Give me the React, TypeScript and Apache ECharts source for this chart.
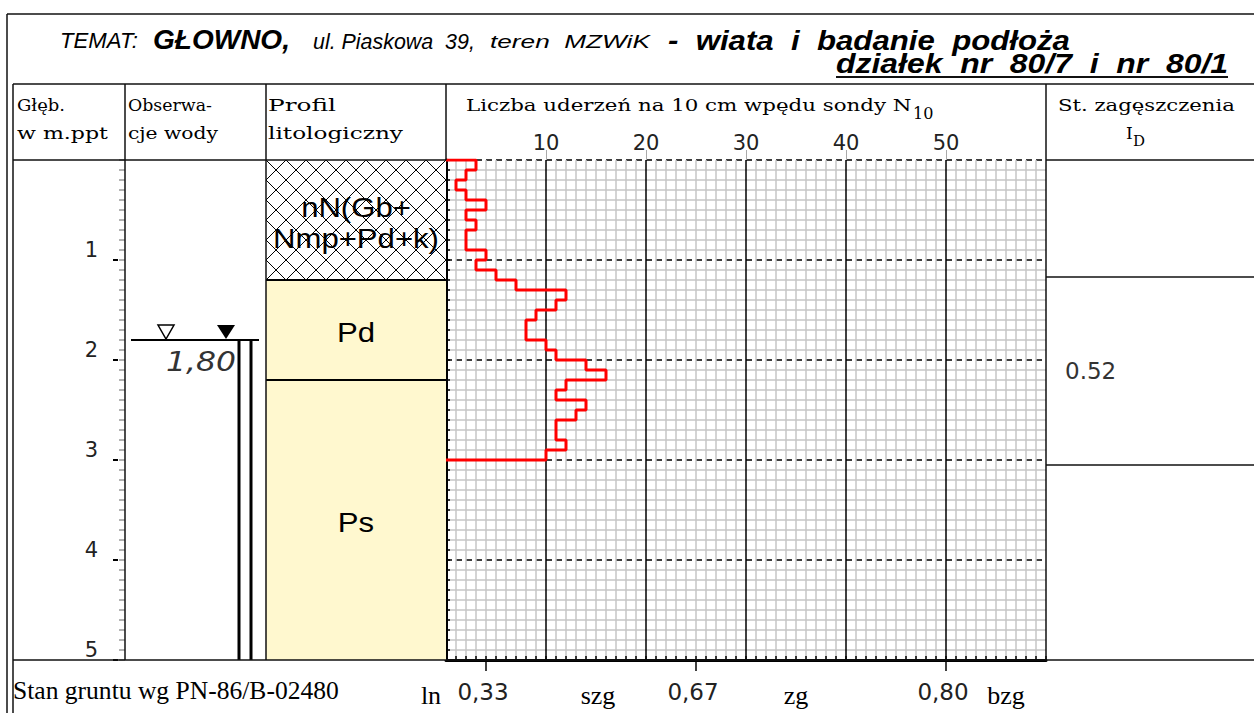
import React, { useEffect, useRef } from 'react';
import * as echarts from 'echarts';

// ---------- data ----------
const DEPTH_STEP = 0.1;
const N10_VALUES = [3, 2, 1, 2, 4, 2, 3, 2, 2, 4, 3, 5, 7, 12, 11, 9, 8, 8, 10, 11, 14, 16, 12, 11, 14, 13, 11, 11, 12, 10];
const N10_TICKS = [10, 20, 30, 40, 50];
const N_MAX = 60;
const DEPTH_TICKS = [1, 2, 3, 4, 5];
const DEPTH_MAX = 5;
const LAYER_TOPS = [0, 1.2, 2.2];
const LAYER_BOTTOMS = [1.2, 2.2, 5];
const LAYER_NAMES = ['nN(Gb+\nNmp+Pd+k)', 'Pd', 'Ps'];
const LAYER_HATCHED = [true, false, false];
const ID_TOPS = [0, 1.17, 3.05];
const ID_BOTTOMS = [1.17, 3.05, 5];
const ID_LABELS = ['', '0.52', ''];
const WATER_DEPTH = 1.8;
const WATER_LABEL = '1,80';
const STATE_TICK_N = [4, 25, 50];
const STATE_TICK_LABELS = ['0,33', '0,67', '0,80'];
const STATE_NAME_N = [-1.5, 15.2, 35, 56];
const STATE_NAMES = ['ln', 'szg', 'zg', 'bzg'];

// ---------- layout ----------
const W = 1254;
const H = 713;
const PLOT_L = 446;
const PLOT_R = 1046;
const PLOT_T = 160;
const PLOT_B = 660;
const COL_DEPTH = 125;
const COL_PROFILE = 266;
const INNER_L = 13;
const HEAD_T = 84;

const SERIF = '"DejaVu Serif"';
const SANS = '"Liberation Sans"';
const NUM = '"DejaVu Sans"';
const TIMES = '"Liberation Serif"';

const stepPoints: number[][] = [[0, 0]];
N10_VALUES.forEach((v, i) => {
  const top = Math.round(i * DEPTH_STEP * 10) / 10;
  const bot = Math.round((i + 1) * DEPTH_STEP * 10) / 10;
  stepPoints.push([v, top], [v, bot]);
});
stepPoints.push([0, Math.round(N10_VALUES.length * DEPTH_STEP * 10) / 10]);

let measureCtx: CanvasRenderingContext2D | null = null;
function fit(text: string, font: string, target: number) {
  if (!measureCtx) measureCtx = document.createElement('canvas').getContext('2d');
  if (!measureCtx) return 1;
  measureCtx.font = font;
  const w = measureCtx.measureText(text).width;
  return w > 0 ? target / w : 1;
}

const L = (x1: number, y1: number, x2: number, y2: number, w = 1.5) => ({
  type: 'line',
  z: 100,
  shape: { x1, y1, x2, y2 },
  style: { stroke: '#111', lineWidth: w },
});

// text fitted to a target width (layout widths)
function FT(text: string, x: number, y: number, family: string, size: number, target: number, opts: any = {}) {
  const style = opts.fontStyle || 'normal';
  const weight = opts.fontWeight || 'normal';
  const font = `${style} ${weight} ${size}px ${family}`;
  const sx = target ? fit(text, font, target) : 1;
  const align = opts.align || 'left';
  return {
    type: 'text',
    z: 100,
    x,
    y,
    scaleX: sx,
    style: {
      text, fill: opts.fill || '#000', fontFamily: family, fontSize: size, fontStyle: style, fontWeight: weight,
      align, textAlign: align, verticalAlign: 'middle', textVerticalAlign: 'middle',
    },
  };
}

function hatchLines(x0: number, y0: number, x1: number, y1: number, step: number) {
  const out: any[] = [];
  const st = { stroke: '#000', lineWidth: 1 };
  for (let k = x0 - y1 - step; k <= x1 - y0; k += step) {
    const a = Math.max(x0, y0 + k);
    const b = Math.min(x1, y1 + k);
    if (b > a) out.push({ type: 'line', shape: { x1: a, y1: a - k, x2: b, y2: b - k }, style: st });
  }
  for (let k = x0 + y0; k <= x1 + y1; k += step) {
    const a = Math.max(x0, k - y1);
    const b = Math.min(x1, k - y0);
    if (b > a) out.push({ type: 'line', shape: { x1: a, y1: k - a, x2: b, y2: k - b }, style: st });
  }
  return out;
}

export default function App() {
  const ref = useRef<HTMLDivElement>(null);
  useEffect(() => {
    if (!ref.current) return;
    const chart = echarts.init(ref.current, undefined, { renderer: 'svg' });
    const layerScale = fit('Nmp+Pd+k)', `normal normal 27px ${SANS}`, 166);
    const waterScale = fit(WATER_LABEL, `italic normal 27px ${NUM}`, 70);
    const option: any = {
      animation: false,
      backgroundColor: '#fff',
      grid: [
        { left: PLOT_L, top: PLOT_T, width: PLOT_R - PLOT_L, height: PLOT_B - PLOT_T, containLabel: false },
        { left: 0, top: PLOT_T, width: W, height: PLOT_B - PLOT_T, containLabel: false },
      ],
      xAxis: [
        {
          gridIndex: 0, type: 'value', position: 'top', min: 0, max: N_MAX, interval: 10,
          axisLine: { show: false, onZero: false },
          axisTick: { show: true, length: 10, customValues: N10_TICKS, lineStyle: { color: '#aaa', width: 1 } },
          axisLabel: { show: true, margin: 7, customValues: N10_TICKS, fontFamily: NUM, fontSize: 21, color: '#222' },
          splitLine: { show: true, lineStyle: { color: '#000', width: 1.5 } },
          minorTick: { show: false, splitNumber: 10 },
          minorSplitLine: { show: true, lineStyle: { color: '#c6c6c6', width: 1.5 } },
        },
        {
          gridIndex: 0, type: 'value', position: 'bottom', min: 0, max: N_MAX, interval: 10,
          axisLine: { show: true, onZero: false, lineStyle: { color: '#000', width: 3 } },
          axisTick: { show: true, inside: true, length: 4, lineStyle: { color: '#000', width: 1.5 } },
          minorTick: { show: true, splitNumber: 10, length: 4, lineStyle: { color: '#000', width: 1.5 } },
          axisLabel: { show: false },
          splitLine: { show: false },
        },
        { gridIndex: 1, type: 'value', min: 0, max: W, show: false },
      ],
      yAxis: [
        {
          gridIndex: 0, type: 'value', inverse: true, min: 0, max: DEPTH_MAX, interval: 1,
          axisLine: { show: true, onZero: false, lineStyle: { color: '#000', width: 3 } },
          axisTick: { show: true, inside: true, length: 4, lineStyle: { color: '#000', width: 1.5 } },
          minorTick: { show: true, splitNumber: 10, length: 4, lineStyle: { color: '#000', width: 1.5 } },
          axisLabel: { show: false },
          splitLine: { show: true, lineStyle: { color: '#000', width: 1.5, type: [6, 4] } },
          minorSplitLine: { show: true, lineStyle: { color: '#c6c6c6', width: 1.5 } },
        },
        {
          gridIndex: 0, type: 'value', inverse: true, min: 0, max: DEPTH_MAX, interval: 1,
          position: 'left', offset: PLOT_L - COL_DEPTH,
          axisLine: { show: false, onZero: false },
          axisTick: { show: true, length: 6, lineStyle: { color: '#999', width: 1.5 } },
          minorTick: { show: true, splitNumber: 10, length: 6, lineStyle: { color: '#999', width: 1.5 } },
          axisLabel: { show: false },
          splitLine: { show: false },
        },
        {
          gridIndex: 0, type: 'value', inverse: true, min: 0, max: DEPTH_MAX, interval: 1,
          position: 'left', offset: PLOT_L - COL_DEPTH + 7,
          axisLine: { show: false, onZero: false },
          axisTick: { show: true, length: 5, customValues: DEPTH_TICKS, lineStyle: { color: '#000', width: 2 } },
          axisLabel: { show: true, margin: 20, customValues: DEPTH_TICKS, fontFamily: NUM, fontSize: 21, color: '#222', verticalAlign: 'bottom' },
          splitLine: { show: false },
        },
        { gridIndex: 1, type: 'value', inverse: true, min: 0, max: DEPTH_MAX, show: false },
      ],
      series: [
        {
          type: 'custom', xAxisIndex: 2, yAxisIndex: 3, z: 1, clip: false,
          data: LAYER_NAMES.map((_, i) => [i]),
          renderItem: (params: any, api: any) => {
            const i = params.dataIndex;
            const p0 = api.coord([COL_PROFILE, LAYER_TOPS[i]]);
            const p1 = api.coord([PLOT_L, LAYER_BOTTOMS[i]]);
            const children: any[] = [
              { type: 'rect', shape: { x: p0[0], y: p0[1], width: p1[0] - p0[0], height: p1[1] - p0[1] }, style: { fill: LAYER_HATCHED[i] ? '#fff' : '#FFF8CF' } },
            ];
            if (LAYER_HATCHED[i]) children.push(...hatchLines(p0[0], p0[1], p1[0], p1[1], 20));
            if (i > 0) children.push({ type: 'line', shape: { x1: p0[0], y1: p0[1], x2: p1[0], y2: p0[1] }, style: { stroke: '#000', lineWidth: 2 } });
            children.push({
              type: 'text', x: (p0[0] + p1[0]) / 2, y: (p0[1] + p1[1]) / 2 + 3, scaleX: layerScale,
              style: { text: LAYER_NAMES[i], fontFamily: SANS, fontSize: 27, lineHeight: 31, fill: '#000', align: 'center', verticalAlign: 'middle' },
            });
            return { type: 'group', children };
          },
        },
        {
          type: 'custom', xAxisIndex: 2, yAxisIndex: 3, z: 1, clip: false,
          data: ID_LABELS.map((_, i) => [i]),
          renderItem: (params: any, api: any) => {
            const i = params.dataIndex;
            const p0 = api.coord([PLOT_R, ID_TOPS[i]]);
            const p1 = api.coord([W, ID_BOTTOMS[i]]);
            const children: any[] = [];
            if (i > 0) children.push({ type: 'line', shape: { x1: p0[0], y1: p0[1], x2: p1[0], y2: p0[1] }, style: { stroke: '#111', lineWidth: 1.5 } });
            if (ID_LABELS[i]) children.push({
              type: 'text', x: p0[0] + 19, y: (p0[1] + p1[1]) / 2,
              style: { text: ID_LABELS[i], fontFamily: NUM, fontSize: 23, fill: '#333', align: 'left', verticalAlign: 'middle' },
            });
            return { type: 'group', children };
          },
        },
        {
          type: 'custom', xAxisIndex: 2, yAxisIndex: 3, z: 5, clip: false,
          data: [[WATER_DEPTH]],
          renderItem: (params: any, api: any) => {
            const [, y] = api.coord([0, WATER_DEPTH]);
            const [, yb] = api.coord([0, DEPTH_MAX]);
            return {
              type: 'group',
              children: [
                { type: 'line', shape: { x1: 131, y1: y, x2: 259, y2: y }, style: { stroke: '#000', lineWidth: 2 } },
                { type: 'polygon', shape: { points: [[158, y - 15], [174, y - 15], [166, y - 1]] }, style: { fill: '#fff', stroke: '#000', lineWidth: 1.5 } },
                { type: 'polygon', shape: { points: [[217, y - 15], [235, y - 15], [226, y - 1]] }, style: { fill: '#000' } },
                { type: 'line', shape: { x1: 239, y1: y, x2: 239, y2: yb }, style: { stroke: '#000', lineWidth: 3 } },
                { type: 'line', shape: { x1: 251, y1: y, x2: 251, y2: yb }, style: { stroke: '#000', lineWidth: 3 } },
                { type: 'text', x: 236, y: y + 22, scaleX: waterScale, style: { text: WATER_LABEL, fontFamily: NUM, fontStyle: 'italic', fontSize: 27, fill: '#333', align: 'right', verticalAlign: 'middle' } },
              ],
            };
          },
        },
        {
          type: 'line', xAxisIndex: 0, yAxisIndex: 0, z: 10,
          data: stepPoints, symbol: 'none', showSymbol: false,
          lineStyle: { color: '#ff0000', width: 3 },
        },
        {
          type: 'custom', xAxisIndex: 0, yAxisIndex: 0, z: 5, clip: false,
          data: STATE_TICK_N.map((n) => [n, DEPTH_MAX]),
          renderItem: (params: any, api: any) => {
            const i = params.dataIndex;
            const p = api.coord([STATE_TICK_N[i], DEPTH_MAX]);
            return {
              type: 'group',
              children: [
                { type: 'line', shape: { x1: p[0], y1: p[1], x2: p[0], y2: p[1] + 11 }, style: { stroke: '#000', lineWidth: 1.5 } },
                { type: 'text', x: p[0] - 3, y: p[1] + 32, style: { text: STATE_TICK_LABELS[i], fontFamily: NUM, fontSize: 23, fill: '#222', align: 'center', verticalAlign: 'middle' } },
              ],
            };
          },
        },
        {
          type: 'custom', xAxisIndex: 0, yAxisIndex: 0, z: 5, clip: false,
          data: STATE_NAME_N.map((n) => [n, DEPTH_MAX]),
          renderItem: (params: any, api: any) => {
            const i = params.dataIndex;
            const p = api.coord([STATE_NAME_N[i], DEPTH_MAX]);
            return {
              type: 'text', x: p[0], y: p[1] + 35,
              style: { text: STATE_NAMES[i], fontFamily: TIMES, fontSize: 26, fill: '#000', align: 'center', verticalAlign: 'middle' },
            };
          },
        },
      ],
      graphic: [
        // frame
        L(7, 14, W, 14), L(7, 14, 7, H),
        L(INNER_L, HEAD_T, INNER_L, H), L(INNER_L, HEAD_T, W, HEAD_T),
        L(INNER_L, PLOT_T, PLOT_L, PLOT_T), L(PLOT_R, PLOT_T, W, PLOT_T),
        L(COL_DEPTH, HEAD_T, COL_DEPTH, PLOT_B), L(COL_PROFILE, HEAD_T, COL_PROFILE, PLOT_B),
        L(PLOT_L, HEAD_T, PLOT_L, PLOT_T), L(PLOT_R, HEAD_T, PLOT_R, PLOT_B),
        L(INNER_L, PLOT_B, W, PLOT_B),
        // title
        FT('TEMAT:', 60, 41, SANS, 22, 78, { fontStyle: 'italic' }),
        FT('GŁOWNO,', 153, 40, SANS, 28, 137, { fontStyle: 'italic', fontWeight: 'bold' }),
        FT('ul. Piaskowa  39,', 313, 41, SANS, 22, 162, { fontStyle: 'italic' }),
        FT('teren  MZWiK', 490, 42, SANS, 18, 160, { fontStyle: 'italic' }),
        FT('-  wiata  i  badanie  podłoża', 668, 40, SANS, 28, 402, { fontStyle: 'italic', fontWeight: 'bold' }),
        FT('działek  nr  80/7  i  nr  80/1', 1228, 63, SANS, 28, 392, { fontStyle: 'italic', fontWeight: 'bold', align: 'right' }),
        L(836, 77, 1228, 77, 2),
        // headers
        FT('Głęb.', 17, 105, SERIF, 17, 48),
        FT('w m.ppt', 17, 133, SERIF, 17, 91),
        FT('Obserwa-', 128, 105, SERIF, 17, 84),
        FT('cje wody', 128, 133, SERIF, 17, 90),
        FT('Profil', 268, 105, SERIF, 17, 68),
        FT('litologiczny', 268, 133, SERIF, 17, 135),
        FT('Liczba uderzeń na 10 cm wpędu sondy N', 466, 105, SERIF, 17, 446),
        FT('10', 913, 113, SERIF, 16, 0),
        FT('St. zagęszczenia', 1058, 105, SERIF, 17, 177),
        FT('I', 1126, 133, SERIF, 17, 0),
        FT('D', 1133, 141, SERIF, 15, 0),
        // footer
        FT('Stan gruntu wg PN-86/B-02480', 13, 690, TIMES, 25, 326),
      ],
    };
    chart.setOption(option);
    return () => chart.dispose();
  }, []);
  return <div ref={ref} style={{ position: 'absolute', left: 0, top: 0, width: W, height: H }} />;
}
